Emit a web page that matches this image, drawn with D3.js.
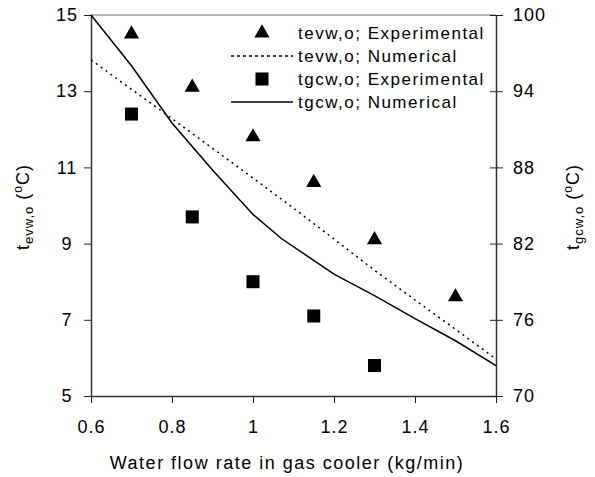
<!DOCTYPE html>
<html>
<head>
<meta charset="utf-8">
<script src="https://cdn.jsdelivr.net/npm/d3@7"></script>
<style>
  html, body { margin: 0; padding: 0; background: #fff; }
  text { font-family: "Liberation Sans", Arial, sans-serif; fill: #000; }
</style>
</head>
<body>
<svg id="chart" width="595" height="477"></svg>
<script>
// ---- data ----
const expFlow = [0.7, 0.85, 1.0, 1.15, 1.3, 1.5];
const tevwExp = [14.5, 13.1, 11.8, 10.6, 9.1, 7.6];

const expFlowG = [0.7, 0.85, 1.0, 1.15, 1.3];
const tgcwExp = [92.2, 84.1, 79.0, 76.3, 72.4];

const numFlow = [0.6, 0.7, 0.8, 0.9, 1.0, 1.1, 1.2, 1.3, 1.4, 1.5, 1.6];
const tevwNum = [13.82, 13.05, 12.28, 11.5, 10.72, 9.93, 9.12, 8.3, 7.52, 6.75, 5.97];

const numFlowG = [0.6, 0.7, 0.8, 0.9, 1.0, 1.07, 1.2, 1.3, 1.4, 1.5, 1.6];
const tgcwNum = [100, 96.0, 91.5, 87.8, 84.3, 82.4, 79.6, 77.9, 76.1, 74.35, 72.4];

const xTicks = [0.6, 0.8, 1.0, 1.2, 1.4, 1.6];
const yLeftTicks = [5, 7, 9, 11, 13, 15];
const yRightTicks = [70, 76, 82, 88, 94, 100];

const legendLabels = ["tevw,o; Experimental", "tevw,o; Numerical", "tgcw,o; Experimental", "tgcw,o; Numerical"];

// ---- layout ----
const svg = d3.select("#chart");
const L = 91, R = 496, T = 15, B = 396;
const FS = 17, LS = "1.5px";
const TFS = 18, TLS = "1px";

const x = d3.scaleLinear().domain([0.6, 1.6]).range([L, R]);
const yL = d3.scaleLinear().domain([5, 15]).range([B, T]);
const yR = d3.scaleLinear().domain([70, 100]).range([B, T]);

const fmt = d => String(+d.toFixed(1));

// top border
svg.append("line").attr("x1", L).attr("x2", R).attr("y1", T).attr("y2", T)
  .attr("stroke", "#a0a0a0").attr("stroke-width", 1.5);

// bottom axis
const gx = svg.append("g").attr("transform", `translate(0,${B})`)
  .call(d3.axisBottom(x).tickValues(xTicks).tickFormat(fmt).tickSizeInner(7).tickSizeOuter(0).tickPadding(17));
// left axis
const gl = svg.append("g").attr("transform", `translate(${L},0)`)
  .call(d3.axisLeft(yL).tickValues(yLeftTicks).tickFormat(fmt).tickSizeInner(7).tickSizeOuter(0));
gl.selectAll(".tick text").attr("text-anchor", "middle").attr("x", -24);
// right axis
const gr = svg.append("g").attr("transform", `translate(${R},0)`)
  .call(d3.axisRight(yR).tickValues(yRightTicks).tickFormat(fmt).tickSizeInner(7).tickSizeOuter(0).tickPadding(10));
gr.selectAll(".tick line").attr("x1", -6);

[gx, gl, gr].forEach(g => {
  g.selectAll(".domain").attr("stroke", "#333").attr("stroke-width", 1.5);
  g.selectAll(".tick line").attr("stroke", "#222").attr("stroke-width", 1);
  g.selectAll(".tick text").attr("font-size", TFS).style("letter-spacing", TLS)
    .style("font-family", "'Liberation Sans', Arial, sans-serif").attr("fill", "#000");
});

// lines
const lineGen = (xs, ys2) => d3.line().x((d, i) => x(xs[i])).y(d => ys2(d));
svg.append("path").datum(tevwNum)
  .attr("d", lineGen(numFlow, yL))
  .attr("fill", "none").attr("stroke", "#000").attr("stroke-width", 1.5)
  .attr("stroke-dasharray", "2,4");
svg.append("path").datum(tgcwNum)
  .attr("d", lineGen(numFlowG, yR))
  .attr("fill", "none").attr("stroke", "#000").attr("stroke-width", 1.5);

// markers
const tri = d3.symbol().type(d3.symbolTriangle).size(100);
const sq = d3.symbol().type(d3.symbolSquare).size(170);
svg.append("g").selectAll("path").data(tevwExp).join("path")
  .attr("d", tri).attr("fill", "#000")
  .attr("transform", (d, i) => `translate(${x(expFlow[i])},${yL(d)})`);
svg.append("g").selectAll("path").data(tgcwExp).join("path")
  .attr("d", sq).attr("fill", "#000")
  .attr("transform", (d, i) => `translate(${x(expFlowG[i])},${yR(d)})`);

// legend
const lg = svg.append("g");
const ly = [33, 56, 79, 102];
const lx0 = 231, lx1 = 293, lxc = 262, ltx = 298;
lg.append("path").attr("d", tri).attr("transform", `translate(${lxc},${ly[0]})`);
lg.append("line").attr("x1", lx0).attr("x2", lx1).attr("y1", ly[1]).attr("y2", ly[1])
  .attr("stroke", "#000").attr("stroke-width", 1.5).attr("stroke-dasharray", "3,3");
lg.append("path").attr("d", sq).attr("transform", `translate(${lxc},${ly[2]})`);
lg.append("line").attr("x1", lx0).attr("x2", lx1).attr("y1", ly[3]).attr("y2", ly[3])
  .attr("stroke", "#000").attr("stroke-width", 1.5);
lg.selectAll("text").data(legendLabels).join("text")
  .attr("x", ltx).attr("y", (d, i) => ly[i] + 6)
  .attr("font-size", FS).style("letter-spacing", LS)
  .text(d => d);

// x title
svg.append("text").attr("x", 287).attr("y", 469).attr("text-anchor", "middle")
  .attr("font-size", 18).style("letter-spacing", "1.5px")
  .text("Water flow rate in gas cooler (kg/min)");

// y titles
function yTitle(cx, cy, sub) {
  const t = svg.append("text").attr("transform", `translate(${cx},${cy}) rotate(-90)`)
    .attr("text-anchor", "middle").attr("font-size", 18).style("letter-spacing", "1px");
  t.append("tspan").text("t");
  t.append("tspan").attr("font-size", 13).attr("dy", 4).text(sub);
  t.append("tspan").attr("dy", -4).text(" (");
  t.append("tspan").attr("font-size", 12).attr("dy", -7).text("o");
  t.append("tspan").attr("dy", 7).text("C)");
}
yTitle(29, 207, "evw,o");
yTitle(579, 207, "gcw,o");
</script>
</body>
</html>
